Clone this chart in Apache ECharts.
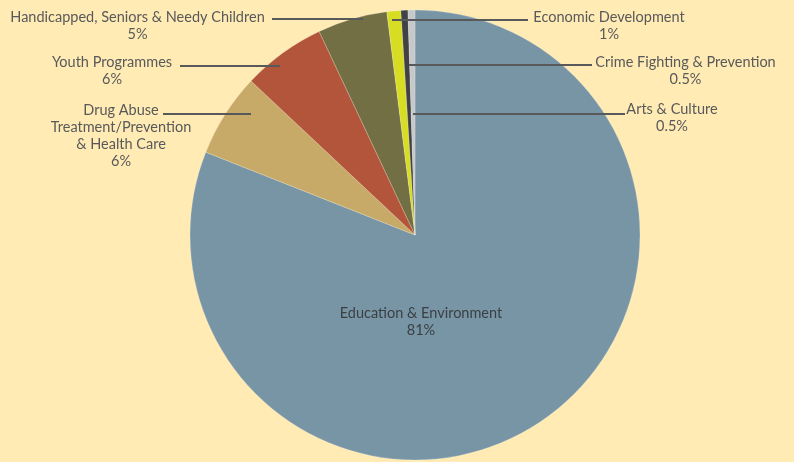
<!DOCTYPE html>
<html>
<head>
<meta charset="utf-8">
<script src="https://cdn.jsdelivr.net/npm/echarts@6/dist/echarts.min.js"></script>
<style>
html,body{margin:0;padding:0;background:#FFEBB3;}
#chart{width:794px;height:462px;}
</style>
</head>
<body>
<div id="chart"></div>
<script>
// Data
const categories = [
  'Education & Environment',
  'Drug Abuse\nTreatment/Prevention\n& Health Care',
  'Youth Programmes',
  'Handicapped, Seniors & Needy Children',
  'Economic Development',
  'Crime Fighting & Prevention',
  'Arts & Culture'
];
const values = [81, 6, 6, 5, 1, 0.5, 0.5];
const valueLabels = ['81%', '6%', '6%', '5%', '1%', '0.5%', '0.5%'];
const colors = ['#7895A5', '#C8AA68', '#B2553A', '#726F45', '#D6DD22', '#404245', '#C7C8CA'];

// Label placement (text block centre x, first line centre y, leader line y, line x range)
const LINE_H = 17;
const labelPlaces = [
  {cx: 421, y: 313},
  {cx: 121, y: 110, ly: 114, x1: 163, x2: 251},
  {cx: 112, y: 62, ly: 66, x1: 180, x2: 280},
  {cx: 137.5, y: 17, ly: 19, x1: 272, x2: 363},
  {cx: 609, y: 17, ly: 20, x1: 528, x2: 392},
  {cx: 685.5, y: 62, ly: 65, x1: 592, x2: 409},
  {cx: 672, y: 109, ly: 114, x1: 625, x2: 413}
];

const chart = echarts.init(document.getElementById('chart'));

const baseSeries = {
  type: 'pie',
  center: [415, 235],
  radius: 225,
  startAngle: 90,
  clockwise: true,
  avoidLabelOverlap: false,
  emphasis: {disabled: true},
  silent: true
};

const pieData = categories.map((name, i) => ({
  name: name,
  value: values[i],
  itemStyle: {color: colors[i]}
}));

const labelData = categories.map((name, i) => ({
  name: name,
  value: values[i],
  label: i === 0 ? {position: 'inside', color: '#3A3F44'} : {position: 'outside', color: '#58595B'},
  labelLine: {show: i !== 0}
}));

chart.setOption({
  backgroundColor: '#FFEBB3',
  animation: false,
  series: [
    Object.assign({}, baseSeries, {
      z: 1,
      data: pieData,
      itemStyle: {borderColor: 'rgba(255,255,255,0.35)', borderWidth: 0.6},
      label: {show: false},
      labelLine: {show: false}
    }),
    Object.assign({}, baseSeries, {
      z: 5,
      data: labelData,
      itemStyle: {color: 'rgba(0,0,0,0)', borderWidth: 0},
      label: {
        show: true,
        fontFamily: 'Lato',
        fontSize: 14.5,
        lineHeight: LINE_H,
        align: 'center',
        formatter: p => p.name + '\n' + valueLabels[p.dataIndex]
      },
      labelLine: {show: true, lineStyle: {color: '#58595B', width: 2, opacity: 1}},
      labelLayout: function (params) {
        const L = labelPlaces[params.dataIndex];
        const out = {
          x: L.cx,
          y: L.y - LINE_H / 2,
          align: 'center',
          verticalAlign: 'top'
        };
        if (L.ly !== undefined) {
          out.labelLinePoints = [[L.x2, L.ly], [(L.x1 + L.x2) / 2, L.ly], [L.x1, L.ly]];
        }
        return out;
      }
    })
  ]
});
</script>
</body>
</html>
